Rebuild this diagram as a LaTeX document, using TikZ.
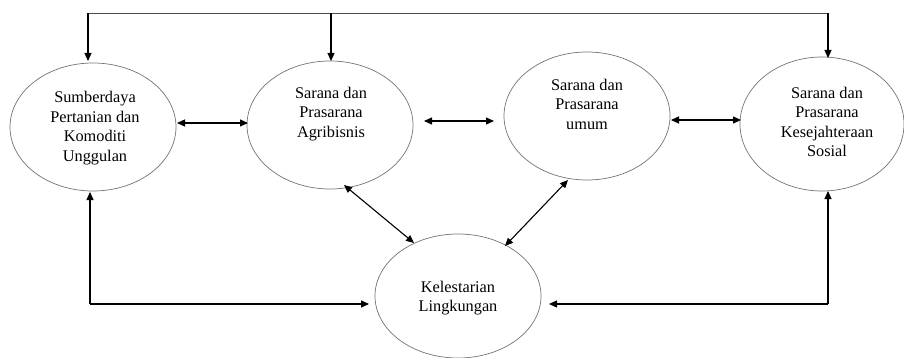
\documentclass[tikz,border=0pt]{standalone}
\usepackage{fontspec}
\setmainfont{Liberation Serif}
\usetikzlibrary{arrows.meta,shapes.geometric}
\begin{document}
\begin{tikzpicture}[x=1pt,y=-1pt,
  oval/.style={draw=black!55,line width=0.7pt,ellipse,minimum width=166pt,minimum height=128pt,inner sep=0pt},
  lbl/.style={align=center,font=\fontsize{16.3}{19.5}\selectfont,inner sep=0pt},
  arr/.style={line width=1.1pt,-{Triangle[length=8pt,width=7pt]}},
  dbl/.style={line width=1.1pt,{Triangle[length=8pt,width=7pt]}-{Triangle[length=8pt,width=7pt]}}]
\useasboundingbox (0,0) rectangle (904,358);
% ellipses
\node[oval] (e1) at (93,127) {};
\node[oval] (e2) at (330,125) {};
\node[oval] (e3) at (587,116) {};
\node[oval,minimum width=164pt,minimum height=134pt] (e4) at (822,124) {};
\node[oval,minimum height=124pt] (e5) at (458,296) {};
% labels
\node[lbl] (t1) at (95,128) {Sumberdaya\\Pertanian dan\\Komoditi\\Unggulan};
\node[lbl] (t2) at (331,114) {Sarana dan\\Prasarana\\Agribisnis};
\node[lbl] (t3) at (587,104) {Sarana dan\\Prasarana\\umum};
\node[lbl] (t4) at (827,122) {Sarana dan\\Prasarana\\Kesejahteraan\\Sosial};
\node[lbl] (t5) at (458,298) {Kelestarian\\Lingkungan};
% top bus
\coordinate (tl) at (88,13);
\coordinate (tm) at (331,13);
\coordinate (tr) at (828,13);
\draw[line width=0.8pt,black!70] (tl) -- (tr);
\draw[arr] (tl) -- (88,61);
\draw[arr] (tm) -- (331,61);
\draw[arr] (tr) -- (828,58);
% horizontal links
\coordinate (h1a) at (177,123);
\coordinate (h1b) at (248,123);
\coordinate (h2a) at (424,121);
\coordinate (h2b) at (494,121);
\coordinate (h3a) at (671,120);
\coordinate (h3b) at (741,120);
\draw[dbl] (h1a) -- (h1b);
\draw[dbl] (h2a) -- (h2b);
\draw[dbl] (h3a) -- (h3b);
% diagonals
\coordinate (d1a) at (344,185);
\coordinate (d1b) at (414,243);
\coordinate (d2a) at (568,180);
\coordinate (d2b) at (505,246);
\draw[dbl] (d1a) -- (d1b);
\draw[dbl] (d2a) -- (d2b);
% bottom links
\coordinate (bl) at (90,304);
\coordinate (br) at (828,304);
\draw[arr] (bl) -- (90,192);
\draw[arr] (bl) -- (369,304);
\draw[arr] (br) -- (828,191);
\draw[arr] (br) -- (549,304);
\end{tikzpicture}
\end{document}
